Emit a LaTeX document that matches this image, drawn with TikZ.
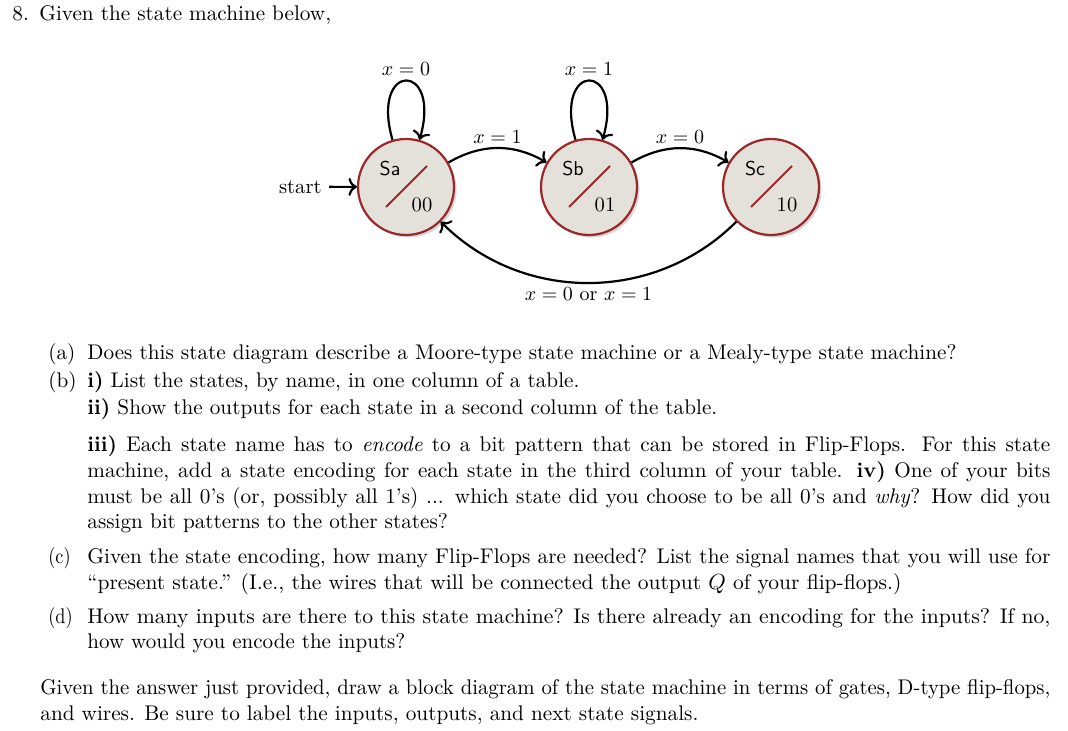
\documentclass[tikz,border=0pt]{standalone}
\usepackage{graphicx}
\usetikzlibrary{arrows.meta,shadows}
\definecolor{stfill}{RGB}{228,225,219}
\definecolor{stline}{RGB}{155,40,40}
\begin{document}
\begin{tikzpicture}[x=0.5pt,y=0.5pt,
  txt/.style={inner sep=0pt,anchor=base west,font=\fontsize{10.6}{12.7}\selectfont},
  state/.style={circle,draw=stline,line width=1.1pt,fill=stfill,minimum size=48pt,inner sep=0pt,
    drop shadow={shadow xshift=1.3pt,shadow yshift=-1.3pt,opacity=0.3}},
  sname/.style={font=\sffamily\fontsize{10}{12}\selectfont,inner sep=0pt},
  sout/.style={font=\fontsize{10.3}{12}\selectfont,inner sep=0pt},
  edge/.style={line width=1.1pt,-{To[length=4.2pt,width=9pt]}},
  elab/.style={font=\fontsize{10}{12}\selectfont,inner sep=2pt}
]
\useasboundingbox[fill=white] (0,0) rectangle (1068,730);

% states
\foreach \n/\x/\o in {Sa/406/00, Sb/589/01, Sc/771/10}{
  \node[state] (\n) at (\x,543) {};
  \node[sname] (\n-name) at ([shift={(-16,18)}]\n.center) {\n};
  \node[sout] (\n-out) at ([shift={(16,-18)}]\n.center) {\o};
  \draw[stline,line width=0.9pt] ([shift={(-20,-20)}]\n.center) -- ([shift={(21,21)}]\n.center);
}

% start
\node[font=\fontsize{10.3}{12}\selectfont,inner sep=3.5pt,anchor=base east] (st) at (329,537) {start};
\draw[edge] (st) -- (Sa);

% loops
\draw[edge] (Sa.106) .. controls +(106:82) and +(74:82) .. node[elab,above] (lSa) {$x=0$} (Sa.74);
\draw[edge] (Sb.106) .. controls +(106:82) and +(74:82) .. node[elab,above] (lSb) {$x=1$} (Sb.74);

% transitions
\draw[edge] (Sa) to[bend left=30] node[elab,above] (lab) {$x=1$} (Sb);
\draw[edge] (Sb) to[bend left=30] node[elab,above] (lbc) {$x=0$} (Sc);
\draw[edge] (Sc) to[bend left=45] node[elab,below] (lca) {$x=0$ or $x=1$} (Sa);

% text
\node[txt] (t0a) at (12,709) {8.};
\node[txt] (t0b) at (39,709) {Given the state machine below,};

\node[txt] (la) at (48,371) {(a)};
\node[txt] (a1) at (87,371) {Does this state diagram describe a Moore-type state machine or a Mealy-type state machine?};

\node[txt] (lb) at (48,343) {(b)};
\node[txt] (b1) at (87,343) {\textbf{i)} List the states, by name, in one column of a table.};
\node[txt] (b2) at (87,316) {\textbf{ii)} Show the outputs for each state in a second column of the table.};
\node[txt] (b3) at (87,279) {\hbox to 481.5pt{\textbf{iii)} Each state name has to \emph{encode} to a bit pattern that can be stored in Flip-Flops. For this state}};
\node[txt] (b4) at (87,253) {\hbox to 481.5pt{machine, add a state encoding for each state in the third column of your table. \textbf{iv)} One of your bits}};
\node[txt] (b5) at (87,227) {\hbox to 481.5pt{must be all 0's (or, possibly all 1's) ... which state did you choose to be all 0's and \emph{why}? How did you}};
\node[txt] (b6) at (87,202) {assign bit patterns to the other states?};

\node[txt] (lc) at (48,167) {\scalebox{0.86}[1]{(c)}};
\node[txt] (c1) at (87,167) {\resizebox{481.5pt}{\height}{Given the state encoding, how many Flip-Flops are needed? List the signal names that you will use for}};
\node[txt] (c2) at (87,141) {\resizebox{407pt}{\height}{``present state.'' (I.e., the wires that will be connected the output $Q$ of your flip-flops.)}};

\node[txt] (ld) at (48,107) {\scalebox{0.86}[1]{(d)}};
\node[txt] (d1) at (87,107) {\resizebox{481.5pt}{\height}{How many inputs are there to this state machine? Is there already an encoding for the inputs? If no,}};
\node[txt] (d2) at (87,82) {\resizebox{159pt}{\height}{how would you encode the inputs?}};

\node[txt] (g1) at (40,36) {\resizebox{505pt}{\height}{Given the answer just provided, draw a block diagram of the state machine in terms of gates, D-type flip-flops,}};
\node[txt] (g2) at (40,10) {\resizebox{329pt}{\height}{and wires. Be sure to label the inputs, outputs, and next state signals.}};
\end{tikzpicture}
\end{document}
